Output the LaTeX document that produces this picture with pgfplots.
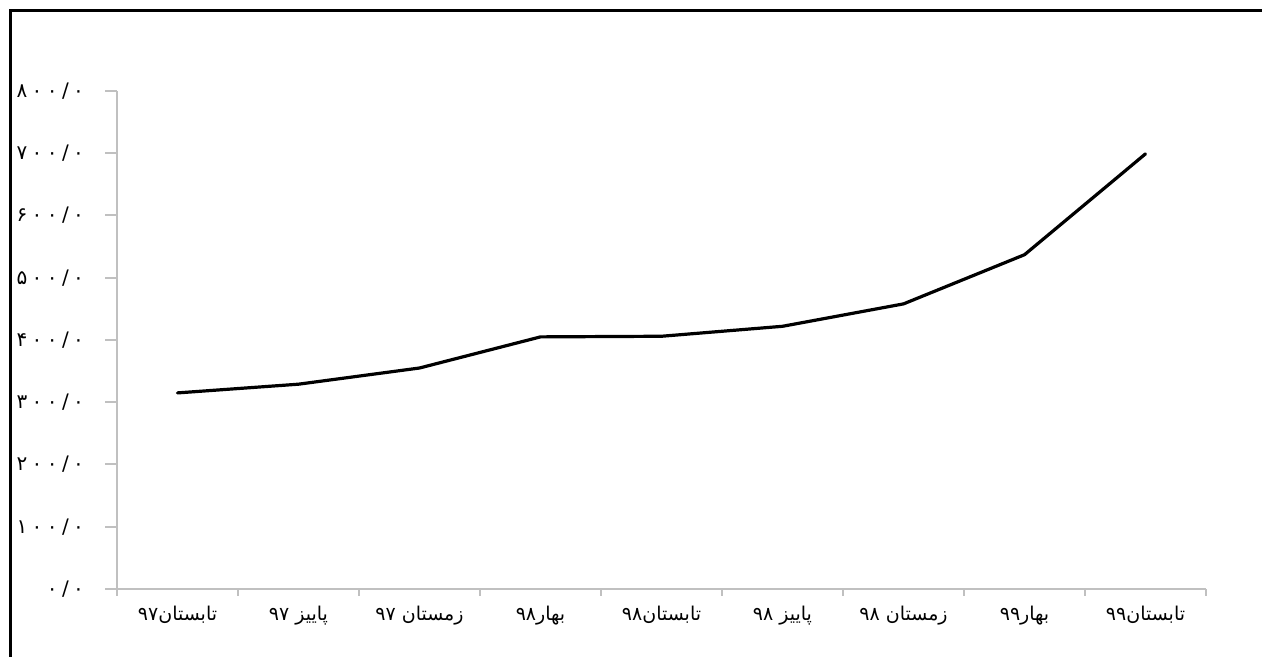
\documentclass[border=0pt]{standalone}
\usepackage{fontspec}
\usepackage{pgfplots}
\pgfplotsset{compat=1.18}
\TeXXeTstate=1
\newfontfamily\fa[Script=Arabic]{DejaVu Sans}
\newfontfamily\fanum[Script=Arabic, LetterSpace=22]{DejaVu Sans}
\definecolor{axisgray}{HTML}{C0C0C0}

\begin{document}
\begin{tikzpicture}
\useasboundingbox (0,0) rectangle (631pt,328.5pt);
% outer chart frame (only the left and top edges are inside the picture)
\draw[line width=1.5pt] (5pt,-10pt) -- (5pt,323.2pt) -- (650pt,323.2pt);
\begin{axis}[
    at={(58.5pt,34pt)}, anchor=south west,
    scale only axis,
    width=544.5pt, height=249pt,
    xmin=0.5, xmax=9.5,
    ymin=0, ymax=800,
    axis lines*=left,
    axis line style={axisgray, line width=1pt},
    tick align=outside,
    xtick={1,...,9},
    xticklabels={
        \beginR تابستان۹۷\endR,
        \beginR پاییز ۹۷\endR,
        \beginR زمستان ۹۷\endR,
        \beginR بهار۹۸\endR,
        \beginR تابستان۹۸\endR,
        \beginR پاییز ۹۸\endR,
        \beginR زمستان ۹۸\endR,
        \beginR بهار۹۹\endR,
        \beginR تابستان۹۹\endR},
    major x tick style={draw=none},
    minor xtick={0.5,1.5,...,9.5},
    minor x tick style={axisgray, line width=1pt},
    minor tick length=3.5pt,
    ytick={0,100,...,800},
    yticklabels={
        ۰/۰,
        ۱۰۰/۰,
        ۲۰۰/۰,
        ۳۰۰/۰,
        ۴۰۰/۰,
        ۵۰۰/۰,
        ۶۰۰/۰,
        ۷۰۰/۰,
        ۸۰۰/۰},
    major y tick style={axisgray, line width=1pt},
    major tick length=6pt,
    xticklabel style={font=\fa\fontsize{9.5pt}{11pt}\selectfont, text=black, yshift=1pt},
    yticklabel style={font=\fanum\fontsize{10pt}{11pt}\selectfont, text=black, xshift=-7pt},
    clip=false,
]
\addplot[black, line width=1.6pt, line join=round, line cap=round] coordinates {
    (1,315) (2,329) (3,355) (4,405) (5,406) (6,422) (7,458) (8,537) (9,699)
};
\end{axis}
\end{tikzpicture}
\end{document}
